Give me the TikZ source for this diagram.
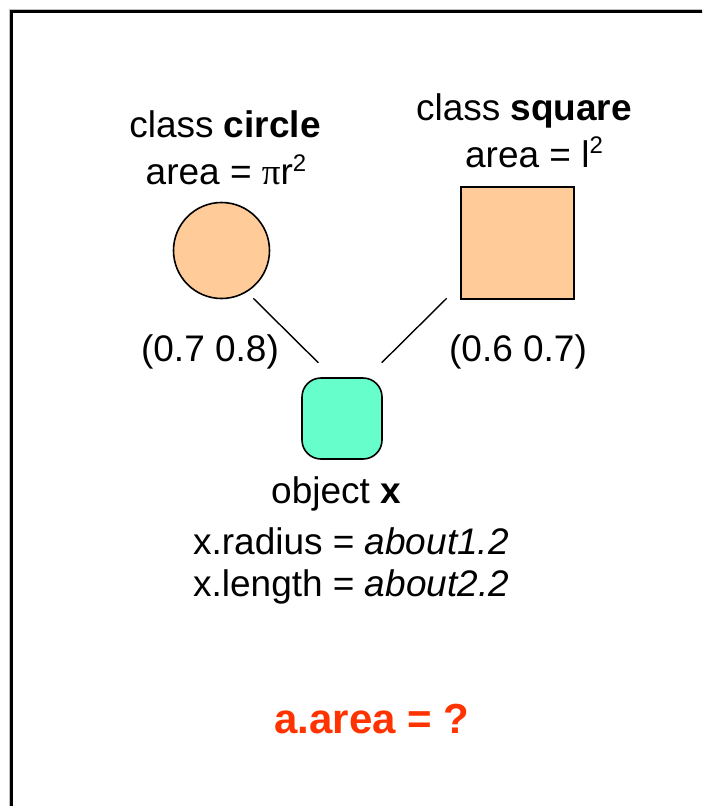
\documentclass[tikz,border=0pt]{standalone}
\usepackage{fontspec}
\setmainfont{Liberation Sans}
\newfontfamily\symfont{Liberation Serif}
\definecolor{peach}{HTML}{FFCC99}
\definecolor{mint}{HTML}{66FFCC}
\definecolor{qred}{HTML}{FF3300}
\newcommand{\supr}[1]{\raisebox{0.36em}{\fontsize{24}{24}\selectfont #1}}
\tikzset{
  lbl/.style={anchor=base, inner sep=0pt, font=\fontsize{37}{40}\selectfont},
  shapebox/.style={draw=black, line width=1.6pt, fill=peach},
  conn/.style={line width=1.4pt, draw=black}
}
\begin{document}
\begin{tikzpicture}[x=1pt,y=-1pt]
\useasboundingbox (0,0) rectangle (702,806);
\clip (0,0) rectangle (702,806);
\fill[white] (0,0) rectangle (702,806);
\draw[gray!50, line width=1pt] (9,9) rectangle (740,840);
\draw[black, line width=2.2pt] (11.5,11.5) rectangle (740,840);
% shapes
\node[shapebox, circle, minimum size=96pt, inner sep=0pt] (circ) at (221.5,250.5) {};
\node[shapebox, rectangle, minimum width=113pt, minimum height=112pt, inner sep=0pt] (sq) at (517.5,243) {};
\node[draw=black, line width=1.6pt, fill=mint, rounded corners=19pt, minimum width=80pt, minimum height=81pt, inner sep=0pt] (obj) at (342,418.5) {};
% connectors
\coordinate (c1) at (253.3,298.3);
\coordinate (c2) at (318.3,362.7);
\coordinate (s1) at (446.7,298.3);
\coordinate (s2) at (381.7,362.7);
\draw[conn] (c1) -- (c2);
\draw[conn] (s1) -- (s2);
% texts
\node[lbl] (t1) at (225,137) {class \textbf{circle}};
\node[lbl] (t2) at (226,184.5) {area = {\symfont π}r\supr{2}};
\node[lbl] (t3) at (524,120) {class \textbf{square}};
\node[lbl] (t4) at (534,167) {area = l\supr{2}};
\node[lbl] (t5) at (210,361) {(0.7 0.8)};
\node[lbl] (t6) at (518,361) {(0.6 0.7)};
\node[lbl] (t7) at (336,503) {object \textbf{x}};
\node[lbl] (t8) at (351,554) {x.radius = \textit{about1.2}};
\node[lbl] (t9) at (351,596) {x.length = \textit{about2.2}};
\node[lbl, text=qred, font=\fontsize{42}{45}\selectfont\bfseries] (t10) at (372,733) {a.area = ?};
\end{tikzpicture}
\end{document}
